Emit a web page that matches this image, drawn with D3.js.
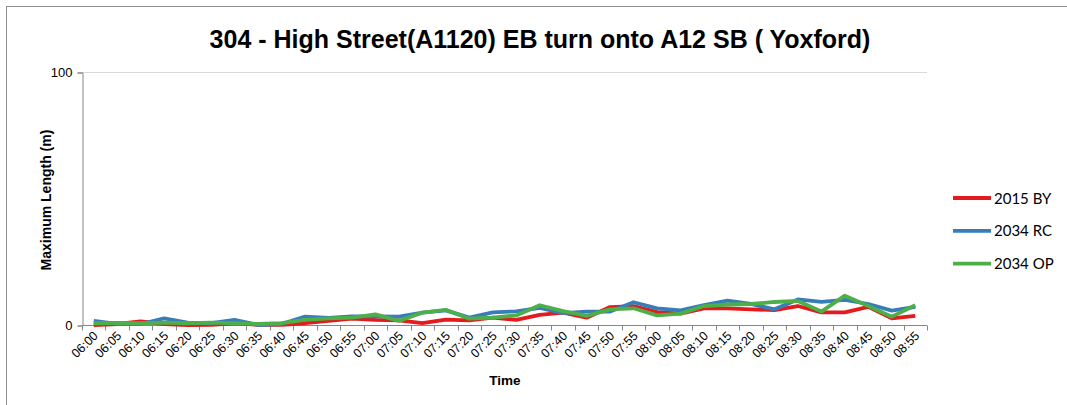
<!DOCTYPE html>
<html>
<head>
<meta charset="utf-8">
<script src="https://cdn.jsdelivr.net/npm/d3@7"></script>
<style>
  body { margin: 0; background: #fff; }
  svg { display: block; }
</style>
</head>
<body>
<div class="chart"></div>
<script>
// categories and values
let times = ["06:00", "06:05", "06:10", "06:15", "06:20", "06:25", "06:30", "06:35", "06:40", "06:45",
    "06:50", "06:55", "07:00", "07:05", "07:10", "07:15", "07:20", "07:25", "07:30", "07:35",
    "07:40", "07:45", "07:50", "07:55", "08:00", "08:05", "08:10", "08:15", "08:20", "08:25",
    "08:30", "08:35", "08:40", "08:45", "08:50", "08:55"]
let by2015 = [0, 0.4, 1.4, 0.4, 0, 0.1, 0.7, 0.1, 0.1, 0.7, 1.6, 2.5, 2, 1.8, 0.7, 2.1, 1.8, 2.9, 2, 4,
    4.9, 2.9, 7.1, 7.5, 5.1, 4.5, 6.6, 6.6, 6.2, 5.9, 7.5, 5, 5, 7.2, 2.6, 3.6]
let rc2034 = [1.6, 0.4, 0.4, 2.6, 0.9, 0.7, 2, 0, 0.4, 3.3, 2.8, 3.4, 3.4, 3.3, 4.9, 5.8, 2.9, 5, 5.4, 6.8,
    4.7, 5.3, 5.3, 9, 6.6, 5.8, 7.9, 9.6, 8.3, 6.2, 10.1, 9.1, 9.9, 8.3, 5.7, 7.2]
let op2034 = [0.7, 0.8, 0.7, 0.9, 0.7, 0.9, 0.7, 0.4, 0.7, 2, 2.6, 2.9, 4.2, 1.6, 4.9, 6, 2.5, 2.9, 3.8, 7.8,
    5.5, 3.6, 6.2, 6.6, 3.8, 4.5, 7.5, 8.1, 8.3, 9.1, 9.5, 5.3, 11.6, 7.5, 3.3, 7.8]
let seriesNames = ["2015 BY", "2034 RC", "2034 OP"]
let yTicks = [0, 100]

let width = 1067, height = 405
let plotLeft = 82, plotRight = 927, plotTop = 72, plotBottom = 325
let colors = ["#e41a1c", "#377eb8", "#4daf4a"]
let series = [by2015, rc2034, op2034]

let svg = d3.select(".chart")
    .append("svg")
    .attr("width", width)
    .attr("height", height)

// outer chart frame
svg.append("rect")
    .attr("x", 6.5).attr("y", 6.5)
    .attr("width", width + 20).attr("height", height + 20)
    .attr("fill", "none")
    .attr("stroke", "#8c8c8c")

let xScale = d3.scaleBand().domain(times).range([plotLeft, plotRight])
let yScale = d3.scaleLinear().domain([0, 100]).range([plotBottom, plotTop])

// gridline at 100
svg.append("line")
    .attr("x1", plotLeft).attr("x2", plotRight)
    .attr("y1", yScale(100) + 0.5).attr("y2", yScale(100) + 0.5)
    .attr("stroke", "#d9d9d9")

// y axis
let yAxis = svg.append("g")
    .attr("transform", `translate(${plotLeft + 0.5},0.5)`)
    .call(d3.axisLeft(yScale).tickValues(yTicks).tickSize(5).tickPadding(5))
yAxis.select(".domain").attr("stroke", "#868686")
yAxis.selectAll(".tick line").attr("stroke", "#868686")
yAxis.selectAll("text")
    .attr("font-family", "Liberation Sans, Arial, sans-serif")
    .attr("font-size", 13)
    .attr("fill", "#000")

// x axis, ticks on band edges
let xAxis = svg.append("g")
    .attr("transform", `translate(0,${plotBottom + 0.5})`)
xAxis.append("path")
    .attr("d", `M${plotLeft},0H${plotRight}`)
    .attr("stroke", "#868686")
xAxis.selectAll("line")
    .data(times.concat(["end"]))
    .enter()
    .append("line")
    .attr("x1", (d, i) => Math.round(plotLeft + i * xScale.step()) + 0.5)
    .attr("x2", (d, i) => Math.round(plotLeft + i * xScale.step()) + 0.5)
    .attr("y1", 0).attr("y2", 5)
    .attr("stroke", "#868686")
xAxis.selectAll("text")
    .data(times)
    .enter()
    .append("text")
    .attr("font-family", "Liberation Sans, Arial, sans-serif")
    .attr("font-size", 12.5)
    .attr("text-anchor", "end")
    .attr("transform", (d) => `translate(${xScale(d) + xScale.bandwidth() / 2 + 5},${11}) rotate(-45)`)
    .text((d) => d)

// axis titles
svg.append("text")
    .attr("x", 505).attr("y", 385)
    .attr("text-anchor", "middle")
    .attr("font-family", "Liberation Sans, Arial, sans-serif")
    .attr("font-size", 13.5).attr("font-weight", "bold")
    .text("Time")
svg.append("text")
    .attr("transform", "translate(51,200) rotate(-90)")
    .attr("text-anchor", "middle")
    .attr("font-family", "Liberation Sans, Arial, sans-serif")
    .attr("font-size", 14).attr("font-weight", "bold")
    .text("Maximum Length (m)")

// title
svg.append("text")
    .attr("x", 540).attr("y", 48)
    .attr("text-anchor", "middle")
    .attr("font-family", "Liberation Sans, Arial, sans-serif")
    .attr("font-size", 25).attr("font-weight", "bold")
    .text("304 - High Street(A1120) EB turn onto A12 SB ( Yoxford)")

// lines
let line = d3.line()
    .x((d, i) => xScale(times[i]) + xScale.bandwidth() / 2)
    .y((d) => yScale(d))
series.forEach((values, index) => {
    svg.append("path")
        .datum(values)
        .attr("fill", "none")
        .attr("stroke", colors[index])
        .attr("stroke-width", 3.8)
        .attr("stroke-linejoin", "round")
        .attr("d", line)
})

// legend
let legend = svg.append("g")
    .selectAll("g")
    .data(seriesNames)
    .enter()
    .append("g")
    .attr("transform", (d, i) => `translate(953,${198 + i * 32.8})`)
legend.append("line")
    .attr("x1", 0).attr("x2", 38)
    .attr("stroke", (d, i) => colors[i])
    .attr("stroke-width", 3.8)
legend.append("text")
    .attr("x", 41).attr("y", 5.5)
    .attr("font-family", "Lato, sans-serif")
    .attr("font-size", 15)
    .text((d) => d)
</script>
</body>
</html>
